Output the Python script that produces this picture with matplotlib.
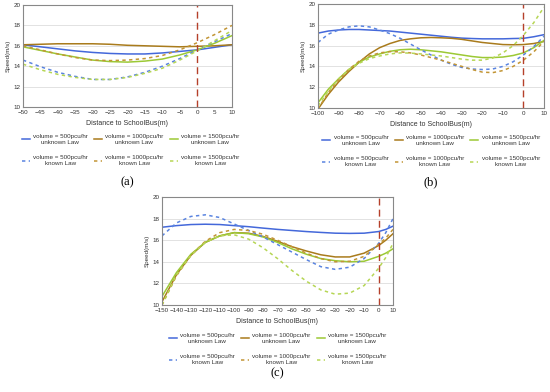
import matplotlib
matplotlib.use("Agg")
import matplotlib.pyplot as plt

# ---------------- data ----------------
labels = ["volume = 500pcu/hr\nunknown Law", "volume = 1000pcu/hr\nunknown Law", "volume = 1500pcu/hr\nunknown Law",
          "volume = 500pcu/hr\nknown Law", "volume = 1000pcu/hr\nknown Law", "volume = 1500pcu/hr\nknown Law"]

# panel (a)
xa = [-50, -45, -40, -35, -30, -25, -20, -15, -10, -5, 0, 5, 10]
a_500u = [16.1, 15.9, 15.7, 15.5, 15.35, 15.25, 15.2, 15.2, 15.3, 15.45, 15.6, 15.85, 16.1]
a_1000u = [16.1, 16.15, 16.2, 16.2, 16.2, 16.15, 16.05, 16.0, 15.95, 15.9, 15.95, 16.0, 16.1]
a_1500u = [15.9, 15.55, 15.2, 14.9, 14.6, 14.45, 14.4, 14.5, 14.7, 15.1, 15.6, 16.25, 17.0]
a_500k = [14.6, 13.95, 13.4, 13.0, 12.7, 12.7, 12.95, 13.4, 14.0, 14.75, 15.6, 16.4, 17.2]
a_1000k = [16.0, 15.6, 15.2, 14.85, 14.6, 14.55, 14.6, 14.75, 15.05, 15.6, 16.3, 17.1, 18.0]
a_1500k = [14.2, 13.65, 13.2, 12.9, 12.7, 12.7, 12.9, 13.3, 13.8, 14.6, 15.5, 16.5, 17.5]

# panel (b)
xb = [-100, -95, -90, -85, -80, -75, -70, -65, -60, -55, -50, -45, -40, -35, -30, -25, -20, -15, -10, -5, 0, 5, 10]
b_500u = [17.2, 17.4, 17.5, 17.55, 17.55, 17.5, 17.45, 17.4, 17.3, 17.2, 17.1, 17.0, 16.9, 16.8, 16.72, 16.68, 16.65, 16.65, 16.65, 16.68, 16.7, 16.85, 17.05]
b_1000u = [9.9, 11.3, 12.5, 13.5, 14.4, 15.2, 15.8, 16.2, 16.5, 16.65, 16.75, 16.78, 16.75, 16.7, 16.6, 16.45, 16.3, 16.2, 16.1, 16.08, 16.1, 16.2, 16.4]
b_1500u = [10.5, 11.8, 12.8, 13.7, 14.4, 14.9, 15.2, 15.45, 15.6, 15.65, 15.6, 15.5, 15.4, 15.25, 15.1, 14.95, 14.85, 14.85, 14.9, 15.05, 15.3, 15.8, 16.5]
b_500k = [16.3, 17.1, 17.5, 17.8, 17.9, 17.8, 17.5, 17.15, 16.7, 16.15, 15.6, 15.1, 14.6, 14.2, 13.9, 13.75, 13.7, 13.75, 14.0, 14.45, 15.1, 15.9, 16.9]
b_1000k = [9.9, 11.5, 12.7, 13.7, 14.5, 15.0, 15.3, 15.42, 15.4, 15.3, 15.1, 14.85, 14.6, 14.3, 14.0, 13.7, 13.45, 13.4, 13.6, 14.0, 14.6, 15.4, 16.4]
b_1500k = [10.2, 11.6, 12.8, 13.7, 14.3, 14.75, 15.0, 15.2, 15.3, 15.28, 15.2, 15.1, 15.0, 14.85, 14.7, 14.6, 14.6, 14.8, 15.3, 16.0, 17.0, 18.2, 19.7]

# panel (c)
xc = [-150, -140, -130, -120, -110, -100, -90, -80, -70, -60, -50, -40, -30, -20, -10, 0, 5, 10]
c_500u = [17.2, 17.35, 17.45, 17.48, 17.45, 17.35, 17.25, 17.12, 17.0, 16.9, 16.8, 16.72, 16.65, 16.63, 16.65, 16.8, 17.0, 17.3]
c_1000u = [10.3, 12.8, 14.6, 15.8, 16.4, 16.7, 16.65, 16.35, 15.9, 15.4, 15.0, 14.65, 14.45, 14.45, 14.8, 15.5, 16.0, 16.6]
c_1500u = [10.8, 13.0, 14.7, 15.8, 16.4, 16.7, 16.6, 16.3, 15.8, 15.2, 14.7, 14.3, 14.1, 14.0, 14.05, 14.5, 14.8, 15.2]
c_500k = [16.4, 17.6, 18.2, 18.35, 18.1, 17.5, 16.9, 16.3, 15.6, 14.9, 14.2, 13.55, 13.3, 13.5, 14.3, 15.7, 16.7, 18.0]
c_1000k = [10.0, 12.7, 14.6, 15.9, 16.7, 17.0, 16.9, 16.55, 16.0, 15.4, 14.8, 14.3, 14.0, 14.05, 14.5, 15.6, 16.2, 17.0]
c_1500k = [10.0, 12.8, 14.6, 15.8, 16.4, 16.5, 16.1, 15.3, 14.3, 13.2, 12.2, 11.4, 11.0, 11.1, 11.8, 13.4, 14.4, 15.7]

# ---------------- style ----------------
c_blue = "#4468da"
c_brown = "#a97b1c"
c_green = "#9cc935"
c_blue_d = "#5a84e0"
c_brown_d = "#c29535"
c_green_d = "#b6d655"
series_colors = [c_blue, c_brown, c_green, c_blue_d, c_brown_d, c_green_d]

plt.rcParams['font.family'] = ['Liberation Sans', 'DejaVu Sans']

W, H = 550, 392
fig = plt.figure(figsize=(W / 100, H / 100), dpi=100)


def panel(px, x, ys, xlim, xticks, caption, cap_y, leg_off, leg_dx):
    left, top, right, bottom = px
    ax = fig.add_axes([left / W, 1 - bottom / H, (right - left) / W, (bottom - top) / H])
    handles = []
    for i, y in enumerate(ys):
        if i < 3:
            h, = ax.plot(x, y, color=series_colors[i], lw=1.1, label=labels[i])
        else:
            h, = ax.plot(x, y, color=series_colors[i], lw=1.1, ls=(0, (2.2, 2.2)), label=labels[i])
        handles.append(h)
    ax.axvline(0, color="#b5402a", lw=1.0, ls=(0, (5, 3)))
    ax.set_xlim(*xlim)
    ax.set_ylim(10, 20)
    ax.set_xticks(xticks)
    ax.set_yticks([10, 12, 14, 16, 18, 20])
    ax.grid(axis='y', color="#dddddd", lw=0.6)
    ax.set_axisbelow(True)
    for s in ax.spines.values():
        s.set_color("#888888")
        s.set_linewidth(0.8)
    ax.tick_params(labelsize=4.5, length=0, pad=2, colors="#333333")
    ax.set_xlabel("Distance to SchoolBus(m)", fontsize=5, labelpad=4, color="#333333")
    ax.set_ylabel("Speed(m/s)", fontsize=4.5, labelpad=2, color="#333333")
    order = [0, 3, 1, 4, 2, 5]
    leg = ax.legend([handles[k] for k in order], [labels[k] for k in order], ncol=3,
                    loc='upper center',
                    bbox_to_anchor=(0.5 + leg_dx / (right - left), -leg_off / (bottom - top)),
                    frameon=False, borderpad=0.3,
                    fontsize=4.5, handlelength=1.3, handletextpad=0.5, columnspacing=1.0,
                    labelspacing=1.6)
    for t in leg.get_texts():
        t.set_multialignment('center')
        t.set_linespacing(1.3)
        t.set_color("#333333")
    fig.text((left + right) / 2 / W, 1 - cap_y / H, caption, ha='center', va='center',
             fontsize=9, family=['Liberation Serif', 'DejaVu Serif'])
    return ax


panel((23, 5, 232, 107), xa,
      [a_500u, a_1000u, a_1500u, a_500k, a_1000k, a_1500k],
      (-50, 10), list(range(-50, 11, 5)), "(a)", 182, 22, 3)
panel((318, 4, 544, 108), xb,
      [b_500u, b_1000u, b_1500u, b_500k, b_1000k, b_1500k],
      (-100, 10), list(range(-100, 11, 10)), "(b)", 182, 22, 0)
panel((162, 197, 393, 305), xc,
      [c_500u, c_1000u, c_1500u, c_500k, c_1000k, c_1500k],
      (-150, 10), list(range(-150, 11, 10)), "(c)", 373, 23, 0)

fig.savefig("out.png", dpi=100)
